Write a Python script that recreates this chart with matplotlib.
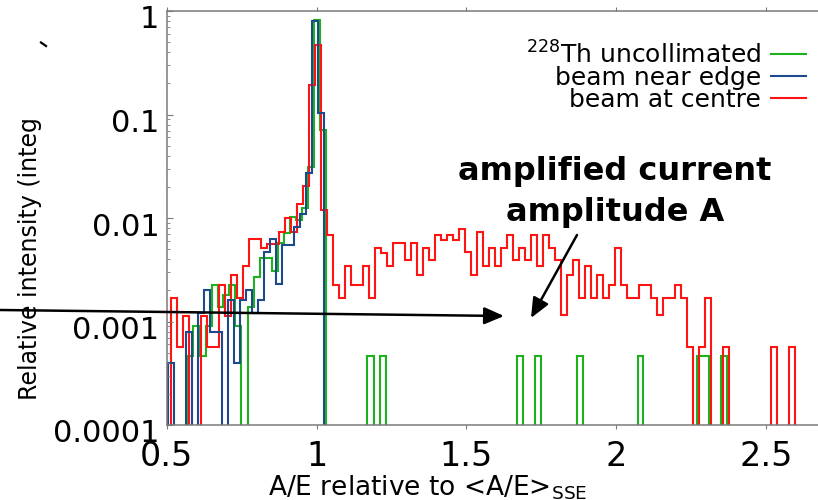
import numpy as np
import matplotlib
matplotlib.use("Agg")
import matplotlib.pyplot as plt
import matplotlib.transforms as mtransforms
from matplotlib.lines import Line2D

# ---- histogram data (relative intensity per A/E bin) ----
bin_width = 0.02

# 228Th source, uncollimated
th_start = 0.51
th_values = [0, 0, 0, 4.6e-4, 9.1e-4, 4.6e-4, 9.1e-4, 2.27e-3, 1.37e-3, 1.8e-3,
             2.27e-3, 9.1e-4, 0, 1.37e-3, 2.7e-3, 4.1e-3, 4.1e-3, 3.1e-3, 5.7e-3, 7.2e-3,
             1.03e-2, 9.5e-3, 1.24e-2, 3.1e-2, 0.82, 7.08e-2, 0, 0, 0, 0,
             0, 0, 0, 4.6e-4, 0, 4.6e-4, 0, 0, 0, 0,
             0, 0, 0, 0, 0, 0, 0, 0, 0, 0,
             0, 0, 0, 0, 0, 0, 0, 0, 4.6e-4, 0,
             0, 4.6e-4, 0, 0, 0, 0, 0, 0, 4.6e-4, 0,
             0, 0, 0, 0, 0, 0, 0, 0, 4.6e-4, 0,
             0, 0, 0, 0, 0, 0, 0, 0, 4.6e-4, 4.6e-4,
             0, 0, 4.6e-4]

# collimated beam near the detector edge
edge_start = 0.506
edge_values = [4e-4, 0, 0, 8e-4, 0, 1.2e-3, 2.0e-3, 8e-4, 8e-4, 0,
               1.6e-3, 4e-4, 1.6e-3, 2.0e-3, 1.2e-3, 1.6e-3, 4.7e-3, 6.3e-3, 2.3e-3, 5.5e-3,
               5.5e-3, 8.2e-3, 1.1e-2, 2.74e-2, 0.806, 0.103]

# collimated beam at the detector centre
centre_start = 0.514
centre_values = [1.7e-3, 5.7e-4, 1.13e-3, 0, 0, 1.13e-3, 5.7e-4, 5.7e-4, 2.27e-3, 1.13e-3,
                 2.83e-3, 1.7e-3, 3.4e-3, 6.3e-3, 6.3e-3, 5.1e-3, 5.6e-3, 5.6e-3, 7.4e-3, 9.9e-3,
                 7.4e-3, 1.36e-2, 2.04e-2, 0.193, 0.469, 1.19e-2, 6.9e-3, 2.26e-3, 1.7e-3, 3.4e-3,
                 2.26e-3, 2.26e-3, 3.4e-3, 1.7e-3, 5.1e-3, 4.6e-3, 3.4e-3, 5.7e-3, 5.7e-3, 3.9e-3,
                 5.7e-3, 2.8e-3, 5.1e-3, 3.9e-3, 6.9e-3, 6.1e-3, 6.9e-3, 6.1e-3, 7.9e-3, 4.7e-3,
                 2.8e-3, 7.4e-3, 3.4e-3, 5.1e-3, 3.4e-3, 5.1e-3, 6.9e-3, 3.9e-3, 5.1e-3, 3.9e-3,
                 6.9e-3, 3.4e-3, 6.9e-3, 5.1e-3, 3.9e-3, 1.16e-3, 2.8e-3, 3.9e-3, 1.7e-3, 3.4e-3,
                 1.7e-3, 2.8e-3, 1.7e-3, 2.26e-3, 5.1e-3, 2.26e-3, 1.7e-3, 1.7e-3, 2.26e-3, 2.26e-3,
                 1.7e-3, 1.16e-3, 1.7e-3, 1.7e-3, 2.26e-3, 1.7e-3, 5.7e-4, 0, 5.7e-4, 1.7e-3,
                 0, 0, 5.7e-4, 0, 0, 0, 0, 0, 0, 0,
                 5.7e-4, 0, 0, 5.7e-4]

series_labels = [r"$^{228}$Th uncollimated", "beam near edge", "beam at centre"]
series_colors = ["#1db21d", "#1c4a8c", "#ff1414"]

xticks = [0.5, 1, 1.5, 2, 2.5]
xtick_labels = ["0.5", "1", "1.5", "2", "2.5"]
yticks = [1e-4, 1e-3, 1e-2, 1e-1, 1]
ytick_labels = ["0.0001", "0.001", "0.01", "0.1", "1"]

W, H = 818, 500
fig = plt.figure(figsize=(W / 100, H / 100), dpi=100)
ax_left, ax_bottom, ax_top = 166.5, 425, 11
ax = fig.add_axes([ax_left / W, 1 - ax_bottom / H, 1 - ax_left / W, (ax_bottom - ax_top) / H])

floor = 1e-7   # empty bins drop below the visible range


def draw_hist(start, values, color):
    v = np.asarray(values, dtype=float)
    edges = start + bin_width * np.arange(len(v) + 1)
    ax.stairs(np.where(v > 0, v, floor), edges, baseline=floor, fill=False,
              color=color, lw=1.5)


draw_hist(th_start, th_values, series_colors[0])
draw_hist(centre_start, centre_values, series_colors[2])
draw_hist(edge_start, edge_values, series_colors[1])

ax.set_yscale("log")
ax.set_ylim(1e-4, 1)
ax.set_xlim(0.5, 0.5 + (W - ax_left) / 300.0)

# axes frame and ticks
spine_col = "#7a7a7a"
for side in ("left", "top", "bottom"):
    ax.spines[side].set_color(spine_col)
    ax.spines[side].set_linewidth(1.1)
ax.spines["right"].set_visible(False)

ax.set_xticks(xticks)
ax.set_xticklabels(xtick_labels)
ax.set_yticks(yticks)
ax.set_yticklabels(ytick_labels)
ax.tick_params(axis="x", which="both", direction="out", top=True, bottom=True,
               length=3, color=spine_col, labelsize=24, pad=8)
ax.tick_params(axis="y", which="major", direction="in", left=True, right=False,
               length=4, color=spine_col, labelsize=22, pad=5)
ax.yaxis.set_minor_locator(matplotlib.ticker.LogLocator(base=10, subs=np.arange(2, 10), numticks=20))
ax.yaxis.set_minor_formatter(matplotlib.ticker.NullFormatter())
ax.tick_params(axis="y", which="minor", direction="in", left=True, right=False,
               length=2, color=spine_col)

shift = mtransforms.ScaledTranslation(0, -0.06, fig.dpi_scale_trans)
for tick in ax.yaxis.get_major_ticks(len(yticks)):
    tick.label1.set_transform(tick.label1.get_transform() + shift)

# axis titles
fig.text(428 / W, 1 - 495 / H, r"A/E relative to <A/E>$_{\mathregular{SSE}}$",
         ha="center", va="baseline", fontsize=19)
fig.text(30 / W, 1 - 400 / H, "Relative intensity (integ", rotation=90,
         ha="center", va="bottom", fontsize=17)
fig.add_artist(Line2D([41 / W, 46 / W], [1 - 42.5 / H, 1 - 46 / H],
                      transform=fig.transFigure, color="black", lw=1.6))

# legend: label first, line sample on the right
handles = [Line2D([], [], color=c, lw=1.5) for c in series_colors]
ax.legend(handles, series_labels, loc="upper right", markerfirst=False, frameon=False,
          bbox_to_anchor=(806 / W, 1 - 41 / H), bbox_transform=fig.transFigure,
          borderpad=0, borderaxespad=0, fontsize=18, handlelength=1.4,
          handletextpad=0.4, labelspacing=-0.08)

# annotation
fig.text(615 / W, 1 - 192 / H, "amplified current\namplitude A", ha="center", va="center",
         fontsize=23, fontweight="bold", linespacing=1.45)
arrow_kw = dict(arrowstyle="-|>,head_length=0.6,head_width=0.26", color="black",
                lw=1.8, mutation_scale=20, shrinkA=0, shrinkB=0)
ax.annotate("", xy=(504, H - 316), xycoords="figure pixels",
            xytext=(0, H - 310), textcoords="figure pixels",
            arrowprops=arrow_kw, annotation_clip=False, zorder=10)
ax.annotate("", xy=(531, H - 318), xycoords="figure pixels",
            xytext=(577, H - 235), textcoords="figure pixels",
            arrowprops=arrow_kw, annotation_clip=False, zorder=10)

fig.savefig("out.png", dpi=100, facecolor="white")
